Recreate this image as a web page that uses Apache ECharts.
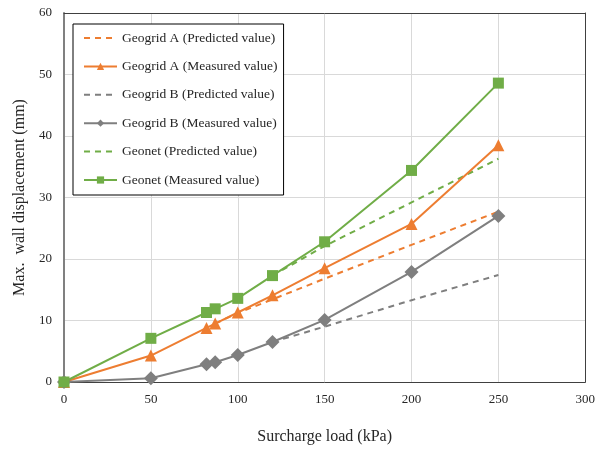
<!DOCTYPE html>
<html>
<head>
<meta charset="utf-8">
<script src="https://cdn.jsdelivr.net/npm/echarts@6/dist/echarts.min.js"></script>
<style>
  html, body { margin: 0; padding: 0; background: #ffffff; }
  #chart { width: 598px; height: 450px; }
</style>
</head>
<body>
<div id="chart"></div>
<script>
// Surcharge load steps (kPa) for the measured curves
var loads = [0, 50, 82, 87, 100, 120, 150, 200, 250];

// Measured maximum wall displacement (mm)
var geogridAMeasured = [0, 4.3, 8.8, 9.5, 11.3, 14.1, 18.5, 25.7, 38.5];
var geogridBMeasured = [0, 0.6, 2.9, 3.2, 4.4, 6.5, 10.1, 17.9, 27.0];
var geonetMeasured   = [0, 7.1, 11.3, 11.9, 13.6, 17.3, 22.8, 34.4, 48.6];

// Predicted curves (load steps and displacement, mm)
var geogridAPredLoads = [87, 100, 150, 200, 250];
var geogridAPredicted = [9.5, 11.2, 16.8, 22.3, 27.7];
var geogridBPredLoads = [120, 150, 200, 250];
var geogridBPredicted = [6.5, 9.0, 13.3, 17.4];
var geonetPredLoads   = [120, 150, 200, 250];
var geonetPredicted   = [17.3, 22.1, 29.2, 36.3];

// Axis ticks
var xTicks = { min: 0, max: 300, interval: 50 };
var yTicks = { min: 0, max: 60, interval: 10 };

var ORANGE = '#ED7D31';
var GRAY = '#7F7F7F';
var GREEN = '#70AD47';
var FRAME = '#404040';
var SERIF = '"Liberation Serif", "Times New Roman", serif';

function pairs(xs, ys) {
  return xs.map(function (x, i) { return [x, ys[i]]; });
}

function predicted(name, color, xs, ys) {
  return {
    name: name,
    type: 'line',
    data: pairs(xs, ys),
    showSymbol: false,
    symbol: 'none',
    lineStyle: { color: color, width: 2, type: [6, 5] },
    itemStyle: { color: color },
    animation: false,
    z: 2
  };
}

function measured(name, color, symbol, size, ys) {
  return {
    name: name,
    type: 'line',
    data: pairs(loads, ys),
    symbol: symbol,
    symbolSize: size,
    lineStyle: { color: color, width: 2 },
    itemStyle: { color: color },
    animation: false,
    z: 3
  };
}

// Legend entries: dashed lines carry no marker
function dashedEntry(name) {
  return { name: name, itemStyle: { opacity: 0 } };
}

// Plain frame edge (top / right) with no labels or grid lines
function frameAxis(ticks, position) {
  return {
    type: 'value',
    position: position,
    min: ticks.min,
    max: ticks.max,
    interval: ticks.interval,
    axisLine: { show: true, onZero: false, lineStyle: { color: FRAME, width: 1 } },
    axisTick: { show: false },
    axisLabel: { show: false },
    splitLine: { show: false }
  };
}

var chart = echarts.init(document.getElementById('chart'), null, { renderer: 'canvas' });

chart.setOption({
  backgroundColor: '#ffffff',
  textStyle: { fontFamily: SERIF },
  grid: {
    left: 64, right: 12, top: 13, bottom: 68,
    show: false
  },
  legend: {
    orient: 'vertical',
    left: 73,
    top: 24,
    padding: [7, 6, 8, 10],
    itemWidth: 33,
    itemHeight: 9,
    itemGap: 14.4,
    backgroundColor: '#ffffff',
    borderColor: '#000000',
    borderWidth: 1,
    textStyle: { fontFamily: SERIF, fontSize: 13.5, color: '#262626' },
    data: [
      dashedEntry('Geogrid A (Predicted value)'),
      'Geogrid A (Measured value)',
      dashedEntry('Geogrid B (Predicted value)'),
      'Geogrid B (Measured value)',
      dashedEntry('Geonet (Predicted value)'),
      'Geonet (Measured value)'
    ]
  },
  xAxis: [{
    type: 'value',
    min: xTicks.min,
    max: xTicks.max,
    interval: xTicks.interval,
    name: 'Surcharge load (kPa)',
    nameLocation: 'middle',
    nameGap: 47,
    nameTextStyle: { fontFamily: SERIF, fontSize: 16, color: '#262626' },
    axisLine: { show: true, lineStyle: { color: FRAME, width: 1 } },
    axisTick: { show: false },
    axisLabel: { fontFamily: SERIF, fontSize: 13, color: '#262626', margin: 11 },
    splitLine: { show: true, lineStyle: { color: '#d9d9d9', width: 1 } }
  }, frameAxis(xTicks, 'top')],
  yAxis: [{
    type: 'value',
    min: yTicks.min,
    max: yTicks.max,
    interval: yTicks.interval,
    name: 'Max.  wall displacement (mm)',
    nameLocation: 'middle',
    nameGap: 35,
    nameTextStyle: { fontFamily: SERIF, fontSize: 16, color: '#262626' },
    axisLine: { show: true, onZero: false, lineStyle: { color: '#808080', width: 2 } },
    axisTick: { show: false },
    axisLabel: { fontFamily: SERIF, fontSize: 13, color: '#262626', margin: 12 },
    splitLine: { show: true, lineStyle: { color: '#d9d9d9', width: 1 } }
  }, frameAxis(yTicks, 'right')],
  series: [
    predicted('Geogrid A (Predicted value)', ORANGE, geogridAPredLoads, geogridAPredicted),
    measured('Geogrid A (Measured value)', ORANGE, 'triangle', 12, geogridAMeasured),
    predicted('Geogrid B (Predicted value)', GRAY, geogridBPredLoads, geogridBPredicted),
    measured('Geogrid B (Measured value)', GRAY, 'diamond', 14, geogridBMeasured),
    predicted('Geonet (Predicted value)', GREEN, geonetPredLoads, geonetPredicted),
    measured('Geonet (Measured value)', GREEN, 'rect', 11, geonetMeasured)
  ]
});
</script>
</body>
</html>
